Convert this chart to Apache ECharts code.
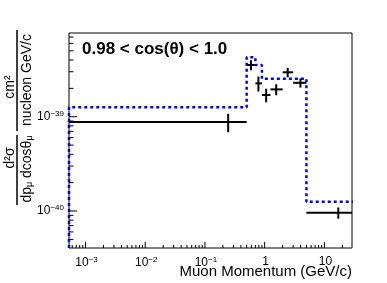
<!DOCTYPE html>
<html><head><meta charset="utf-8">
<script src="https://cdn.jsdelivr.net/npm/echarts@6/dist/echarts.min.js"></script>
<style>html,body{margin:0;padding:0;background:#fff}#c{width:387px;height:283px}</style>
</head><body><div id="c"></div>
<script>
// axis ranges
const xMin = 5.3e-4, xMax = 29;
const yMin = 4.05e-41, yMax = 7.73e-39;
// tick values and labels
const xTickValues = [1e-3, 1e-2, 1e-1, 1, 10];
const xTickLabels = ['{b|10}{s|\u22123}', '{b|10}{s|\u22122}', '{b|10}{s|\u22121}', '{b|1}', '{b|10}'];
const xMinorTicks = [6e-4,7e-4,8e-4,9e-4, 2e-3,3e-3,4e-3,5e-3,6e-3,7e-3,8e-3,9e-3, 2e-2,3e-2,4e-2,5e-2,6e-2,7e-2,8e-2,9e-2, 0.2,0.3,0.4,0.5,0.6,0.7,0.8,0.9, 2,3,4,5,6,7,8,9, 20];
const yTickValues = [1e-40, 1e-39];
const yTickLabels = ['{b|10}{s|\u221240}', '{b|10}{s|\u221239}'];
const yMinorTicks = [5e-41,6e-41,7e-41,8e-41,9e-41, 2e-40,3e-40,4e-40,5e-40,6e-40,7e-40,8e-40,9e-40, 2e-39,3e-39,4e-39,5e-39,6e-39,7e-39];
// data points (black)
const dataX     = [0.245, 0.59, 0.786, 1.06, 1.56, 2.43, 3.97, 17.1];
const dataY     = [8.8e-40, 3.54e-39, 2.26e-39, 1.70e-39, 1.95e-39, 2.96e-39, 2.29e-39, 9.6e-41];
const dataErr   = [1.95e-40, 0.43e-39, 0.41e-39, 0.28e-39, 0.26e-39, 0.34e-39, 0.25e-39, 1.3e-41];
const dataXLow  = [xMin, 0.5, 0.7, 0.9, 1.25, 2, 3, 5];
const dataXHigh = [0.5, 0.7, 0.9, 1.25, 2, 3, 5, 30];
// MC histogram (blue dashed)
const mcEdges  = [xMin, 0.5, 0.7, 0.9, 5, 30];
const mcValues = [1.26e-39, 4.27e-39, 3.53e-39, 2.53e-39, 1.25e-40];

const mcPts = [[mcEdges[0], yMin]];
for (let i = 0; i < mcValues.length; i++) {
  mcPts.push([mcEdges[i], mcValues[i]]);
  mcPts.push([mcEdges[i + 1], mcValues[i]]);
}
const errData = dataX.map((x, i) => [x, dataY[i], dataXLow[i], dataXHigh[i], dataErr[i]]);

// tick records: [value, axis(0=x,1=y), major(1)/minor(0), labelIndex]
const tickData = [];
xTickValues.forEach((v, i) => tickData.push([v, 0, 1, i]));
xMinorTicks.forEach(v => tickData.push([v, 0, 0, -1]));
yTickValues.forEach((v, i) => tickData.push([v, 1, 1, i]));
yMinorTicks.forEach(v => tickData.push([v, 1, 0, -1]));

const FONT = '"Liberation Sans", Arial, Helvetica, sans-serif';
const rich = {
  b: { fontSize: 12, fontFamily: FONT, fill: '#000', color: '#000' },
  s: { fontSize: 8, fontFamily: FONT, fill: '#000', color: '#000', padding: [0, 0, 6, 0] }
};

const chart = echarts.init(document.getElementById('c'), null, { renderer: 'canvas' });
chart.setOption({
  animation: false,
  grid: { left: 69, top: 33, width: 283, height: 215, show: true, borderColor: '#000', borderWidth: 1, backgroundColor: 'transparent' },
  xAxis: { type: 'log', logBase: 10, min: xMin, max: xMax,
    axisLine: { show: false }, axisTick: { show: false }, axisLabel: { show: false }, splitLine: { show: false } },
  yAxis: { type: 'log', logBase: 10, min: yMin, max: yMax,
    axisLine: { show: false }, axisTick: { show: false }, axisLabel: { show: false }, splitLine: { show: false } },
  series: [
    { type: 'line', data: mcPts, showSymbol: false, symbol: 'none', clip: true,
      lineStyle: { color: '#0000ff', width: 2.5, type: [3, 3] }, z: 3 },
    { type: 'custom', data: errData, clip: true, z: 4,
      encode: { x: 0, y: 1 },
      renderItem: function (params, api) {
        const x = api.value(0), y = api.value(1), xl = api.value(2), xh = api.value(3), e = api.value(4);
        const p1 = api.coord([xl, y]), p2 = api.coord([xh, y]);
        const p3 = api.coord([x, y + e]), p4 = api.coord([x, y - e]);
        return { type: 'group', children: [
          { type: 'line', shape: { x1: p1[0], y1: p1[1], x2: p2[0], y2: p2[1] }, style: { stroke: '#000', lineWidth: 2 } },
          { type: 'line', shape: { x1: p3[0], y1: p3[1], x2: p4[0], y2: p4[1] }, style: { stroke: '#000', lineWidth: 2 } }
        ] };
      } },
    { type: 'custom', data: tickData, clip: false, z: 5, silent: true,
      encode: { x: 0 },
      renderItem: function (params, api) {
        const v = api.value(0), ax = api.value(1), major = api.value(2), li = api.value(3);
        const children = [];
        if (ax === 0) {
          const p = api.coord([v, yMin]);
          const len = major ? 6 : 3;
          children.push({ type: 'line', shape: { x1: p[0], y1: p[1], x2: p[0], y2: p[1] - len }, style: { stroke: '#000', lineWidth: 1 } });
          if (li >= 0) children.push({ type: 'text', x: p[0] + 1, y: p[1] + 8, style: { text: xTickLabels[li], rich: rich, align: 'center', verticalAlign: 'top' } });
        } else {
          const p = api.coord([xMin, v]);
          const len = major ? 8 : 4.5;
          children.push({ type: 'line', shape: { x1: p[0], y1: p[1], x2: p[0] + len, y2: p[1] }, style: { stroke: '#000', lineWidth: 1 } });
          if (li >= 0) children.push({ type: 'text', x: p[0] - 5, y: p[1], style: { text: yTickLabels[li], rich: rich, align: 'right', verticalAlign: 'middle' } });
        }
        return { type: 'group', children: children };
      } }
  ],
  graphic: [
    { type: 'text', left: 82, top: 41, style: { text: '0.98 < cos(\u03b8) < 1.0', font: 'bold 17px ' + FONT, fill: '#000' } },
    { type: 'text', right: 35, top: 264, style: { text: 'Muon Momentum (GeV/c)', font: '15px ' + FONT, fill: '#000' } },
    // y-axis title: two stacked fractions, rotated
    { type: 'line', shape: { x1: 17, y1: 30, x2: 17, y2: 131 }, style: { stroke: '#000', lineWidth: 1.5 } },
    { type: 'line', shape: { x1: 17, y1: 135, x2: 17, y2: 205 }, style: { stroke: '#000', lineWidth: 1.5 } },
    { type: 'text', x: 10, y: 87, rotation: Math.PI / 2, style: { text: 'cm\u00b2', font: '14px ' + FONT, fill: '#000', align: 'center', verticalAlign: 'middle' } },
    { type: 'text', x: 27, y: 80, rotation: Math.PI / 2, style: { text: 'nucleon GeV/c', font: '14px ' + FONT, fill: '#000', align: 'center', verticalAlign: 'middle' } },
    { type: 'text', x: 10, y: 158, rotation: Math.PI / 2, style: { text: 'd\u00b2\u03c3', font: '14px ' + FONT, fill: '#000', align: 'center', verticalAlign: 'middle' } },
    { type: 'text', x: 27, y: 169, rotation: Math.PI / 2, style: { text: '{n|dp}{u|\u03bc}{n| dcos\u03b8}{u|\u03bc}', align: 'center', verticalAlign: 'middle',
      rich: { n: { font: '14px ' + FONT, fill: '#000' }, u: { font: '9px ' + FONT, fill: '#000', padding: [6, 0, 0, 0] } } } }
  ]
});
</script></body></html>
